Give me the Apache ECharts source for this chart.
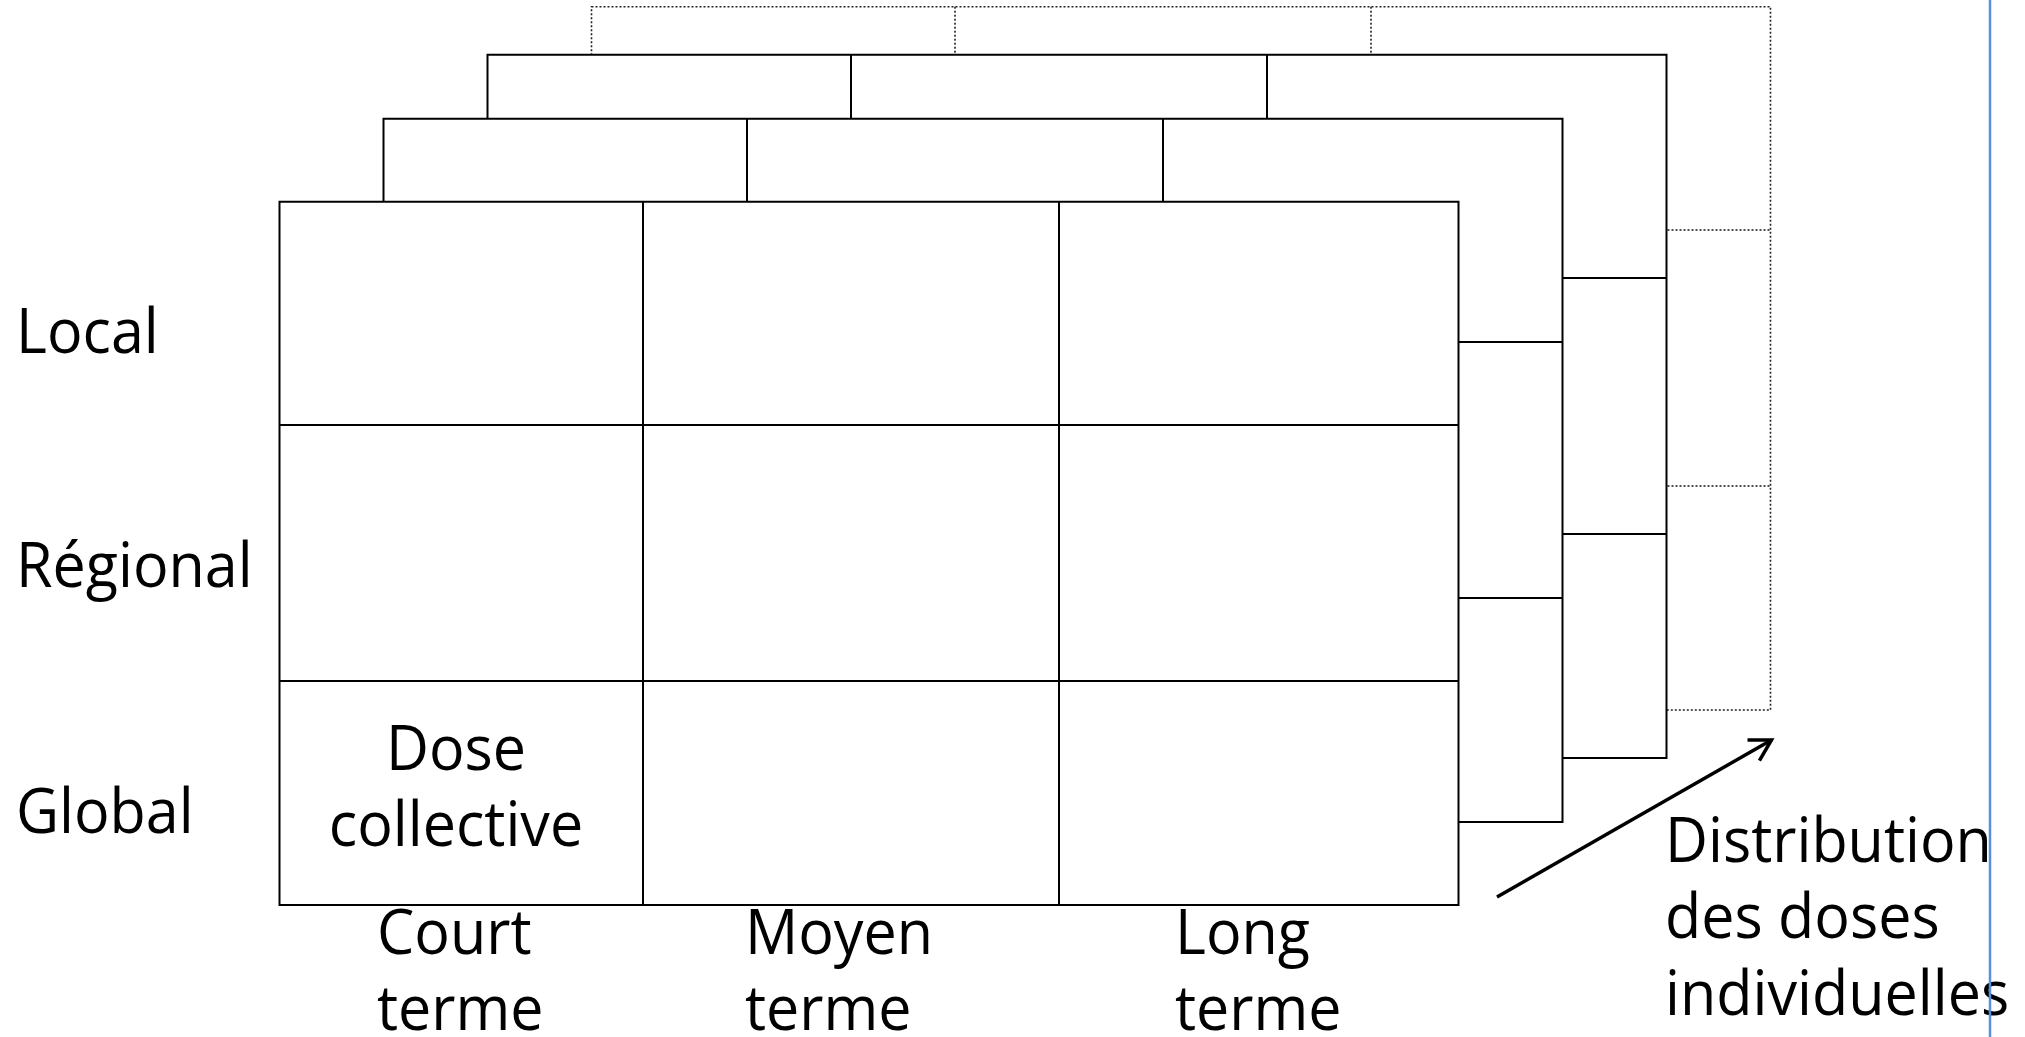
<!DOCTYPE html>
<html>
<head>
<meta charset="utf-8">
<script src="https://cdn.jsdelivr.net/npm/echarts@6/dist/echarts.min.js"></script>
<style>
html,body{margin:0;padding:0;background:#fff;}
#chart{width:2025px;height:1037px;}
</style>
</head>
<body>
<div id="chart"></div>
<script>
// ---- content ----
const rowLabels = ['Local', 'Régional', 'Global'];
const columnLabels = [['Court', 'terme'], ['Moyen', 'terme'], ['Long', 'terme']];
const cellText = ['Dose', 'collective'];          // text in cell (Global, Court terme)
const depthLabel = ['Distribution', 'des doses', 'individuelles'];
const layers = ['front', 'second', 'third', 'back'];

// ---- layout (canvas units) ----
const W = 2025, H = 1037;
const colEdges = [279.5, 643, 1059, 1458.5];
const rowEdges = [201.7, 425, 681, 905];
const layerShift = [[0, 0], [104, -83], [208, -147], [312, -195]];
const layerDashed = [false, false, false, true];
const FONT = '"Open Sans", "Noto Sans", sans-serif';
const FS = 62;
const TEXT_SCALE_X = 0.955;
const LH = 76.5;
const rowLabelX = 16;
const rowLabelBaseline = [353, 586.7, 833];
const colLabelX = [377, 745, 1175];
const colLabelBaseline = 954;
const cellTextX = 456, cellTextBaseline = 770;
const depthX = 1665, depthBaseline = 862;
const arrowFrom = [1497, 897], arrowTo = [1771.5, 740];
const edgeLineX = 1990;

function baseToMid(b) { return b - 0.285 * FS; }

function layerSeries(k) {
  return {
    type: 'custom',
    coordinateSystem: 'cartesian2d',
    z: 10 - k,
    silent: true,
    data: [[k]],
    renderItem: function (params, api) {
      const dx = layerShift[k][0], dy = layerShift[k][1];
      const dashed = layerDashed[k];
      const st = {
        stroke: dashed ? '#222' : '#000',
        lineWidth: dashed ? 1.6 : 2,
        lineDash: dashed ? [2, 2] : null,
        fill: null
      };
      const p0 = api.coord([colEdges[0] + dx, rowEdges[0] + dy]);
      const p1 = api.coord([colEdges[3] + dx, rowEdges[3] + dy]);
      const children = [{
        type: 'rect',
        shape: { x: p0[0], y: p0[1], width: p1[0] - p0[0], height: p1[1] - p0[1] },
        style: Object.assign({}, st, { fill: '#fff' })
      }];
      for (let i = 1; i < colEdges.length - 1; i++) {
        const a = api.coord([colEdges[i] + dx, rowEdges[0] + dy]);
        const b = api.coord([colEdges[i] + dx, rowEdges[3] + dy]);
        children.push({ type: 'line', shape: { x1: a[0], y1: a[1], x2: b[0], y2: b[1] }, style: st });
      }
      for (let j = 1; j < rowEdges.length - 1; j++) {
        const a = api.coord([colEdges[0] + dx, rowEdges[j] + dy]);
        const b = api.coord([colEdges[3] + dx, rowEdges[j] + dy]);
        children.push({ type: 'line', shape: { x1: a[0], y1: a[1], x2: b[0], y2: b[1] }, style: st });
      }
      return { type: 'group', children: children };
    }
  };
}

// text items
const texts = [];
rowLabels.forEach((t, i) => texts.push({ t: t, x: rowLabelX, b: rowLabelBaseline[i], a: 'left' }));
columnLabels.forEach((lines, i) => lines.forEach((t, l) =>
  texts.push({ t: t, x: colLabelX[i], b: colLabelBaseline + l * LH, a: 'left' })));
cellText.forEach((t, l) => texts.push({ t: t, x: cellTextX, b: cellTextBaseline + l * LH, a: 'center' }));
depthLabel.forEach((t, l) => texts.push({ t: t, x: depthX, b: depthBaseline + l * LH, a: 'left' }));

const series = layers.map((_, k) => layerSeries(k)).reverse();

series.push({
  type: 'custom', coordinateSystem: 'cartesian2d', z: 20, silent: true,
  data: texts.map((d, i) => [d.x, d.b, i]),
  renderItem: function (params, api) {
    const d = texts[params.dataIndex];
    const p = api.coord([d.x, baseToMid(d.b)]);
    return {
      type: 'text',
      x: p[0], y: p[1],
      scaleX: TEXT_SCALE_X, scaleY: 1,
      style: {
        x: 0, y: 0, text: d.t,
        font: FS + 'px ' + FONT, fill: '#000',
        textAlign: d.a, textVerticalAlign: 'middle',
        align: d.a, verticalAlign: 'middle'
      }
    };
  }
});

// arrow
series.push({
  type: 'custom', coordinateSystem: 'cartesian2d', z: 20, silent: true,
  data: [[arrowFrom[0], arrowFrom[1], arrowTo[0], arrowTo[1]]],
  renderItem: function (params, api) {
    const a = api.coord([api.value(0), api.value(1)]);
    const b = api.coord([api.value(2), api.value(3)]);
    const ang = Math.atan2(a[1] - b[1], a[0] - b[0]);
    const len = 24, th = Math.PI / 6;
    const h1 = [b[0] + len * Math.cos(ang - th), b[1] + len * Math.sin(ang - th)];
    const h2 = [b[0] + len * Math.cos(ang + th), b[1] + len * Math.sin(ang + th)];
    const st = { stroke: '#000', lineWidth: 3.5, fill: null, lineCap: 'butt', lineJoin: 'miter' };
    return {
      type: 'group', children: [
        { type: 'line', shape: { x1: a[0], y1: a[1], x2: b[0], y2: b[1] }, style: st },
        { type: 'polyline', shape: { points: [h1, b, h2] }, style: st }
      ]
    };
  }
});

// slide edge line
series.push({
  type: 'custom', coordinateSystem: 'cartesian2d', z: 20, silent: true,
  data: [[edgeLineX]],
  renderItem: function (params, api) {
    const a = api.coord([api.value(0), 0]);
    const b = api.coord([api.value(0), H]);
    return { type: 'line', shape: { x1: a[0], y1: a[1], x2: b[0], y2: b[1] }, style: { stroke: '#5a8de0', lineWidth: 2.5 } };
  }
});

const chart = echarts.init(document.getElementById('chart'), null, { renderer: 'canvas' });
chart.setOption({
  animation: false,
  backgroundColor: '#fff',
  grid: { left: 0, right: 0, top: 0, bottom: 0 },
  xAxis: { type: 'value', min: 0, max: W, show: false },
  yAxis: { type: 'value', min: 0, max: H, inverse: true, show: false },
  series: series
});
</script>
</body>
</html>
